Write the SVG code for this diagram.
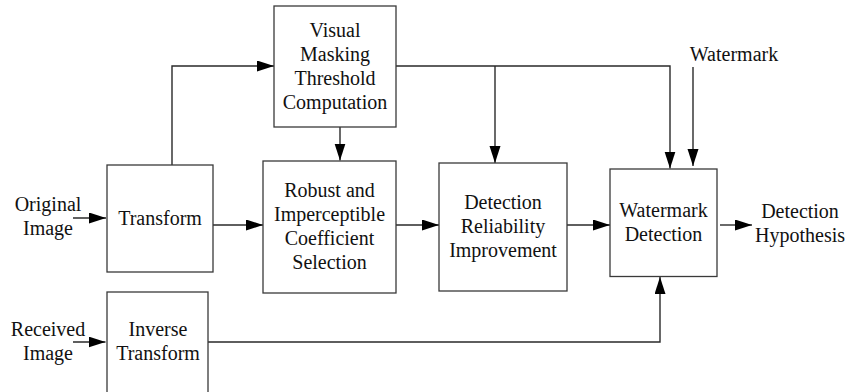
<svg xmlns="http://www.w3.org/2000/svg" width="846" height="392" viewBox="0 0 846 392">
<style>
.box{fill:#fff;stroke:#3a3a3a;stroke-width:1.3}
.ln{fill:none;stroke:#2a2a2a;stroke-width:1.4}
text{font-family:Liberation Serif, Times New Roman, Tinos, DejaVu Serif, Noto Serif, serif;font-size:20px;fill:#111;text-anchor:middle}
</style>
<defs>
<marker id="ah" markerUnits="userSpaceOnUse" markerWidth="18" markerHeight="12" refX="17" refY="5.5" orient="auto">
<path d="M0,0 L17,5.5 L0,11 z" fill="#000"/>
</marker>
</defs>
<rect width="846" height="392" fill="#fff"/>
<g id="connectors">
<path class="ln" d="M73,218 L106,218" marker-end="url(#ah)"/>
<path class="ln" d="M172,165 L172,66 L274,66" marker-end="url(#ah)"/>
<path class="ln" d="M340,127 L340,160.5" marker-end="url(#ah)"/>
<path class="ln" d="M213,225 L263,225" marker-end="url(#ah)"/>
<path class="ln" d="M396,225 L439,225" marker-end="url(#ah)"/>
<path class="ln" d="M567,225 L610,225" marker-end="url(#ah)"/>
<path class="ln" d="M720,225 L752,225" marker-end="url(#ah)"/>
<path class="ln" d="M396,66 L670,66 L670,168.5" marker-end="url(#ah)"/>
<path class="ln" d="M495,66 L495,163" marker-end="url(#ah)"/>
<path class="ln" d="M693,67 L693,166" marker-end="url(#ah)"/>
<path class="ln" d="M73,342 L105.5,342" marker-end="url(#ah)"/>
<path class="ln" d="M208,342 L660,342 L660,277" marker-end="url(#ah)"/>
</g>
<g id="original-image">
<text x="48" y="211">Original</text>
<text x="48" y="235">Image</text>
</g>
<g id="received-image">
<text x="48" y="336">Received</text>
<text x="48" y="360">Image</text>
</g>
<g id="transform">
<rect class="box" x="107" y="165" width="106" height="107"/>
<text x="160" y="225">Transform</text>
</g>
<g id="visual-masking">
<rect class="box" x="274" y="6" width="122" height="121"/>
<text x="335" y="37">Visual</text>
<text x="335" y="61">Masking</text>
<text x="335" y="85">Threshold</text>
<text x="335" y="109">Computation</text>
</g>
<g id="coefficient-selection">
<rect class="box" x="263" y="161" width="133" height="132"/>
<text x="329.5" y="197">Robust and</text>
<text x="329.5" y="221">Imperceptible</text>
<text x="329.5" y="245">Coefficient</text>
<text x="329.5" y="269">Selection</text>
</g>
<g id="detection-reliability">
<rect class="box" x="439" y="163" width="128" height="128"/>
<text x="503" y="209">Detection</text>
<text x="503" y="233">Reliability</text>
<text x="503" y="257">Improvement</text>
</g>
<g id="watermark-detection">
<rect class="box" x="610" y="169" width="107" height="107.5"/>
<text x="663.5" y="217">Watermark</text>
<text x="663.5" y="241">Detection</text>
</g>
<g id="watermark">
<text x="734" y="61">Watermark</text>
</g>
<g id="detection-hypothesis">
<text x="800" y="218">Detection</text>
<text x="800" y="242">Hypothesis</text>
</g>
<g id="inverse-transform">
<rect class="box" x="107" y="292" width="101" height="110"/>
<text x="158" y="336">Inverse</text>
<text x="158" y="360">Transform</text>
</g>
</svg>
